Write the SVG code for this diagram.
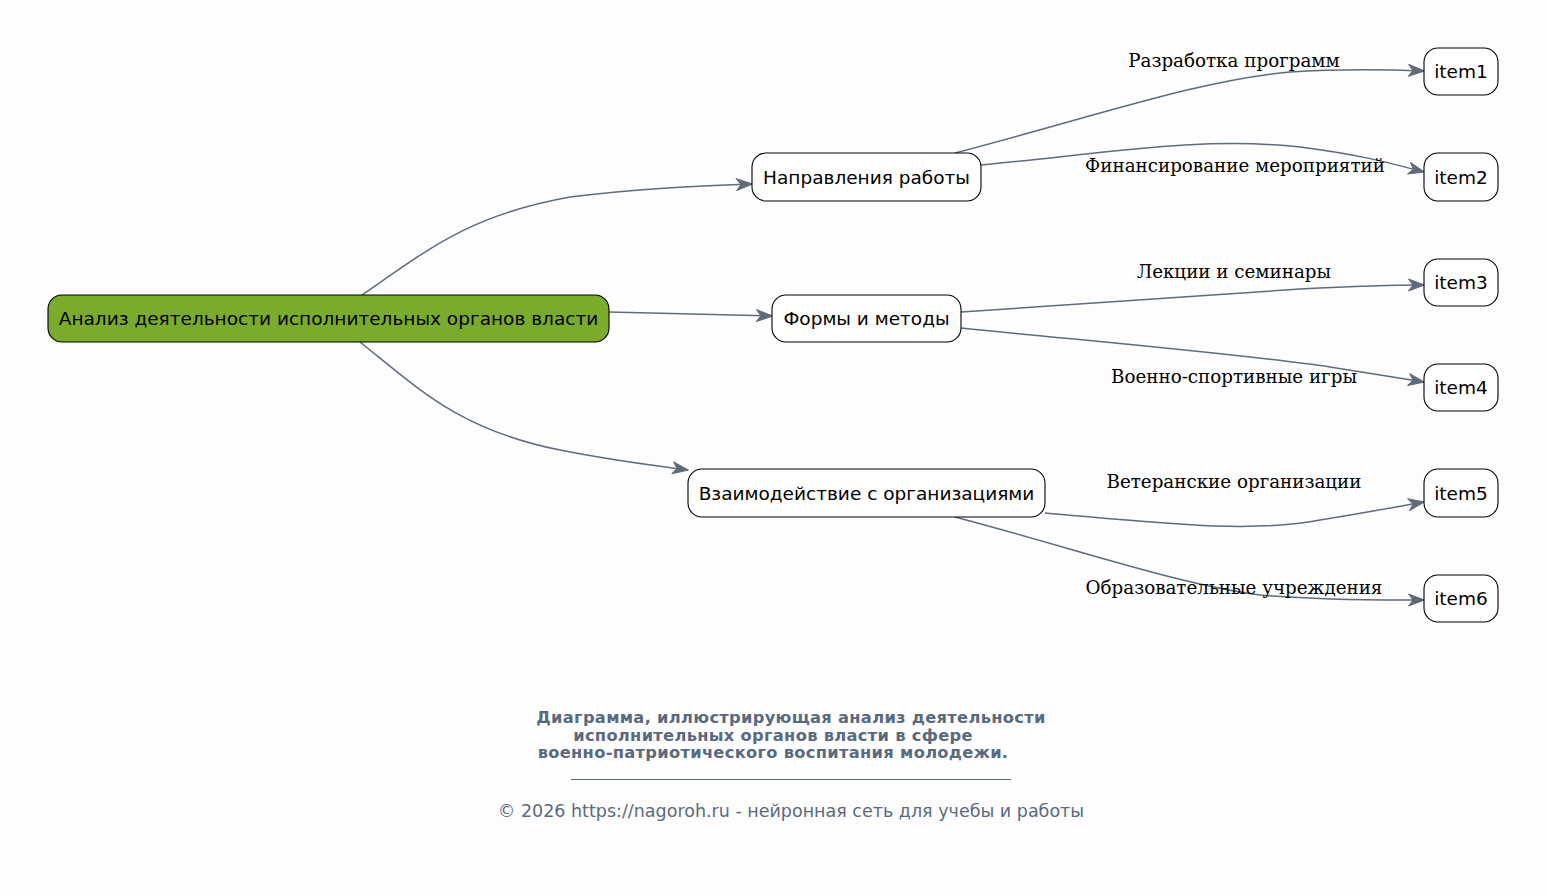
<svg xmlns="http://www.w3.org/2000/svg" width="1547" height="896" viewBox="0 0 1547 896">
<defs>
<style>
.node rect{fill:#ffffff;stroke:#000000;stroke-width:1.1}
.node text{font-family:"DejaVu Sans",sans-serif;font-size:18.5px;fill:#000000;text-anchor:middle;dominant-baseline:central}
.edge{fill:none;stroke:#5f6b7a;stroke-width:1.5;marker-end:url(#arr)}
.elabel{font-family:"DejaVu Serif","Liberation Serif",serif;font-size:18.3px;fill:#000000;text-anchor:middle}
.title{font-family:"DejaVu Sans",sans-serif;font-size:16.3px;font-weight:bold;fill:#5a6a7e;text-anchor:middle;letter-spacing:0.3px}
.foot{font-family:"DejaVu Sans",sans-serif;font-size:17.5px;fill:#5a6a7e;text-anchor:middle}
</style>
<marker id="arr" viewBox="0 0 18 14" refX="16.5" refY="7" markerWidth="18" markerHeight="14" markerUnits="userSpaceOnUse" orient="auto">
<path d="M1,1 L17,7 L1,13 L5.5,7 z" fill="#5f6b7a" stroke="#5f6b7a" stroke-width="1" stroke-linejoin="round"/>
</marker>
</defs>
<rect x="0" y="0" width="1547" height="896" fill="#fdfdfd"/>
<g id="connectors">
<path class="edge" d="M362,295 C430,248 470,215 570,197 C640,188 700,186 752,184"/>
<path class="edge" d="M609,312 L772,316"/>
<path class="edge" d="M360,342 C420,390 460,430 560,450 C620,462 660,466 688,470"/>
<path class="edge" d="M955,153 C1100,115 1200,80 1290,72 C1350,68 1400,70 1424,71"/>
<path class="edge" d="M981,165 C1100,154 1200,136 1300,147 C1370,156 1400,166 1424,172"/>
<path class="edge" d="M961,312 L1300,289 C1360,286 1400,285 1424,285"/>
<path class="edge" d="M961,328 C1100,342 1250,355 1330,367 L1424,382"/>
<path class="edge" d="M1045,513 C1150,522 1250,534 1320,520 C1370,512 1400,506 1424,502"/>
<path class="edge" d="M955,517 C1080,550 1180,585 1260,595 C1330,601 1390,600 1424,600"/>
<text class="elabel" x="1234" y="67">Разработка программ</text>
<text class="elabel" x="1235" y="172">Финансирование мероприятий</text>
<text class="elabel" x="1234" y="278">Лекции и семинары</text>
<text class="elabel" x="1234" y="383">Военно-спортивные игры</text>
<text class="elabel" x="1234" y="488">Ветеранские организации</text>
<text class="elabel" x="1234" y="594">Образовательные учреждения</text>
</g>
<g id="root" class="node"><rect x="48" y="295" width="561" height="47" rx="14" style="fill:#7aab2c"/><text x="328.5" y="318.5">Анализ деятельности исполнительных органов власти</text></g>
<g id="n1" class="node"><rect x="752" y="153" width="229" height="48" rx="14"/><text x="866.5" y="177">Направления работы</text></g>
<g id="n2" class="node"><rect x="772" y="295" width="189" height="47" rx="14"/><text x="866.5" y="318.5">Формы и методы</text></g>
<g id="n3" class="node"><rect x="688" y="469" width="357" height="48" rx="14"/><text x="866.5" y="493">Взаимодействие с организациями</text></g>
<g id="item1" class="node"><rect x="1424" y="48" width="74" height="47" rx="14"/><text x="1461" y="71.5">item1</text></g>
<g id="item2" class="node"><rect x="1424" y="153" width="74" height="48" rx="14"/><text x="1461" y="177">item2</text></g>
<g id="item3" class="node"><rect x="1424" y="259" width="74" height="47" rx="14"/><text x="1461" y="282.5">item3</text></g>
<g id="item4" class="node"><rect x="1424" y="364" width="74" height="47" rx="14"/><text x="1461" y="387.5">item4</text></g>
<g id="item5" class="node"><rect x="1424" y="469" width="74" height="48" rx="14"/><text x="1461" y="493">item5</text></g>
<g id="item6" class="node"><rect x="1424" y="575" width="74" height="47" rx="14"/><text x="1461" y="598.5">item6</text></g>
<g id="caption">
<text class="title" x="791" y="723">Диаграмма, иллюстрирующая анализ деятельности</text>
<text class="title" x="773" y="741">исполнительных органов власти в сфере</text>
<text class="title" x="773" y="758">военно-патриотического воспитания молодежи.</text>
<line x1="571" y1="779.5" x2="1011" y2="779.5" stroke="#5a6a7e" stroke-width="1"/>
<text class="foot" x="791" y="817">© 2026 https://nagoroh.ru - нейронная сеть для учебы и работы</text>
</g>
</svg>
